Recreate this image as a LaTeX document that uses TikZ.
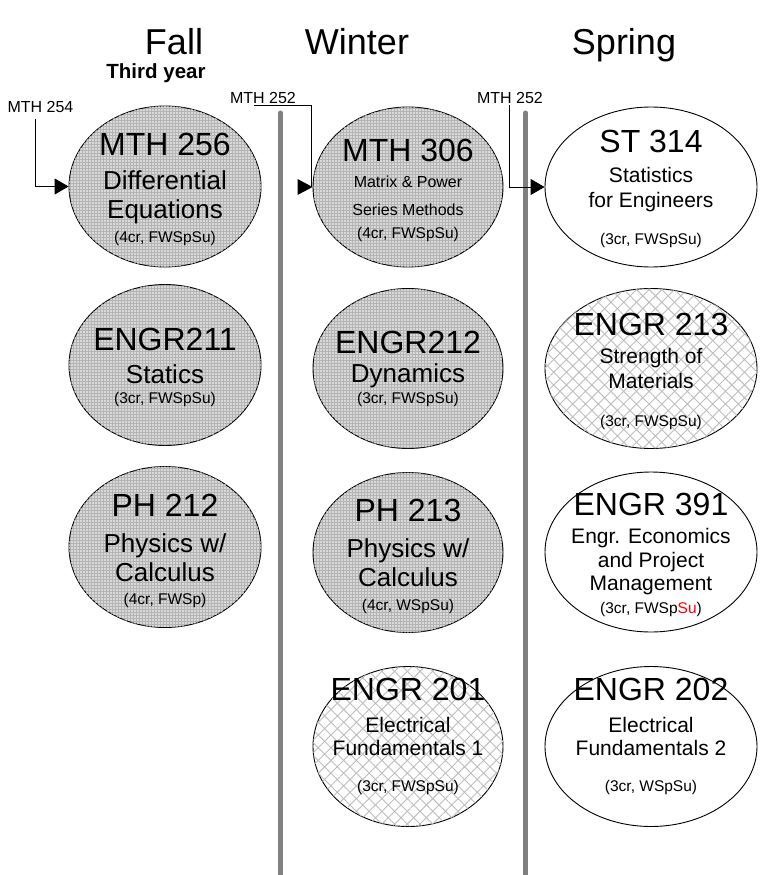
\documentclass[tikz,border=0pt]{standalone}
\usepackage{fontspec}
\setmainfont{Liberation Sans}
\usetikzlibrary{shapes.geometric,patterns.meta,arrows.meta}
\definecolor{bargray}{HTML}{808080}
\definecolor{dotgray}{HTML}{B4B4B4}
\definecolor{hatchgray}{HTML}{BEBEBE}
\tikzset{
  course/.style={ellipse, draw=black, line width=0.9pt, inner sep=0pt},
  fallsize/.style={minimum width=192pt, minimum height=161pt},
  wintersize/.style={minimum width=190pt, minimum height=160pt},
  springsize/.style={minimum width=212pt, minimum height=160pt},
  dotfill/.style={fill=dotgray, postaction={pattern={Dots[distance=3pt,radius=0.85pt]}, pattern color=white}},
  hatchfill/.style={fill=white, postaction={pattern={Hatch[angle=45,distance=9pt,line width=0.9pt]}, pattern color=hatchgray}},
  plainfill/.style={fill=white},
  codetxt/.style={font=\fontsize{32}{32}\selectfont, anchor=base, inner sep=0pt},
  subtxt/.style={font=\fontsize{26}{26}\selectfont, anchor=base, inner sep=0pt},
  smalltxt/.style={font=\fontsize{21}{21}\selectfont, anchor=base, inner sep=0pt},
  tinytxt/.style={font=\fontsize{16}{16}\selectfont, anchor=base, inner sep=0pt},
  credtxt/.style={font=\fontsize{15.5}{15.5}\selectfont, anchor=base, inner sep=0pt},
  headtxt/.style={font=\fontsize{36}{36}\selectfont, anchor=base, inner sep=0pt},
  yeartxt/.style={font=\bfseries\fontsize{20.5}{20.5}\selectfont, anchor=base, inner sep=0pt},
  prereq/.style={font=\fontsize{16}{16}\selectfont, anchor=base, inner sep=0pt},
  conn/.style={draw=black, line width=0.9pt, -{Triangle[length=14pt,width=16pt]}},
  thinline/.style={draw=black, line width=0.9pt},
  bar/.style={draw=bargray, line width=5pt, line cap=round},
}
\begin{document}
\begin{tikzpicture}[x=1pt,y=-1pt]
\fill[white] (0,0) rectangle (762,875);
\useasboundingbox (0,0) rectangle (762,875);

% headers
\node[headtxt] (hfall) at (174,55) {Fall};
\node[headtxt] (hwinter) at (357,55) {Winter};
\node[headtxt] (hspring) at (624,55) {Spring};
\node[yeartxt] (year) at (156,78) {Third year};

% separator bars
\draw[bar] (280.5,113) -- (280.5,880);
\draw[bar] (525.5,113) -- (525.5,880);

% course ellipses
\node[course,fallsize,dotfill] (mth256) at (165,186.5) {};
\node[course,fallsize,dotfill] (engr211) at (165,365) {};
\node[course,fallsize,dotfill] (ph212) at (165,547) {};
\node[course,wintersize,dotfill] (mth306) at (408,187) {};
\node[course,wintersize,dotfill] (engr212) at (408,368.5) {};
\node[course,wintersize,dotfill] (ph213) at (408,552.5) {};
\node[course,wintersize,hatchfill] (engr201) at (408,746.5) {};
\node[course,springsize,plainfill] (st314) at (651,187) {};
\node[course,springsize,hatchfill] (engr213) at (651,368.5) {};
\node[course,springsize,plainfill] (engr391) at (651,552) {};
\node[course,springsize,plainfill] (engr202) at (651,746.5) {};

% Fall texts
\node[codetxt] (t1a) at (165,155) {MTH 256};
\node[subtxt] (t1b) at (165,189) {Differential};
\node[subtxt] (t1c) at (165,218) {Equations};
\node[credtxt] (t1d) at (165,242) {(4cr, FWSpSu)};
\node[codetxt] (t2a) at (165,350) {ENGR211};
\node[subtxt] (t2b) at (165,383) {Statics};
\node[credtxt] (t2c) at (165,403) {(3cr, FWSpSu)};
\node[codetxt] (t3a) at (165,516) {PH 212};
\node[subtxt] (t3b) at (165,552) {Physics w/};
\node[subtxt] (t3c) at (165,581) {Calculus};
\node[credtxt] (t3d) at (165,604) {(4cr, FWSp)};

% Winter texts
\node[codetxt] (t4a) at (408,161) {MTH 306};
\node[tinytxt] (t4b) at (408,187) {Matrix \& Power};
\node[tinytxt] (t4c) at (408,215) {Series Methods};
\node[credtxt] (t4d) at (408,238) {(4cr, FWSpSu)};
\node[codetxt] (t5a) at (408,353) {ENGR212};
\node[subtxt] (t5b) at (408,382) {Dynamics};
\node[credtxt] (t5c) at (408,403) {(3cr, FWSpSu)};
\node[codetxt] (t6a) at (408,521) {PH 213};
\node[subtxt] (t6b) at (408,557) {Physics w/};
\node[subtxt] (t6c) at (408,586) {Calculus};
\node[credtxt] (t6d) at (408,610) {(4cr, WSpSu)};
\node[codetxt] (t7a) at (408,700) {ENGR 201};
\node[smalltxt] (t7b) at (408,732) {Electrical};
\node[smalltxt] (t7c) at (408,755) {Fundamentals 1};
\node[credtxt] (t7d) at (408,791) {(3cr, FWSpSu)};

% Spring texts
\node[codetxt] (t8a) at (651,152) {ST 314};
\node[smalltxt] (t8b) at (651,182) {Statistics};
\node[smalltxt] (t8c) at (651,207) {for Engineers};
\node[credtxt] (t8d) at (651,244) {(3cr, FWSpSu)};
\node[codetxt] (t9a) at (651,335) {ENGR 213};
\node[smalltxt] (t9b) at (651,363) {Strength of};
\node[smalltxt] (t9c) at (651,388) {Materials};
\node[credtxt] (t9d) at (651,426) {(3cr, FWSpSu)};
\node[codetxt] (t10a) at (651,515) {ENGR 391};
\node[smalltxt] (t10b) at (651,543) {Engr. Economics};
\node[smalltxt] (t10c) at (651,567) {and Project};
\node[smalltxt] (t10d) at (651,590) {Management};
\node[credtxt] (t10e) at (651,613) {(3cr, FWSp\textcolor{red}{Su})};
\node[codetxt] (t11a) at (651,700) {ENGR 202};
\node[smalltxt] (t11b) at (651,732) {Electrical};
\node[smalltxt] (t11c) at (651,755) {Fundamentals 2};
\node[credtxt] (t11d) at (651,791) {(3cr, WSpSu)};

% prerequisite labels
\node[prereq] (mth254) at (40.5,112) {MTH 254};
\node[prereq] (w252) at (263,103) {MTH 252};
\node[prereq] (s252) at (510,103) {MTH 252};

% connectors
\draw[conn] ([xshift=-5.5pt,yshift=-7pt]mth254.south) |- (mth256.west);
\draw[thinline] ([xshift=-9pt,yshift=-2pt]w252.south) -| ([xshift=-1pt]mth306.west);
\fill[black] (mth306.west) -- ++(-15,-8) -- ++(0,16) -- cycle;
\draw[conn] ([xshift=-1pt,yshift=-2pt]s252.south) |- (st314.west);
\end{tikzpicture}
\end{document}
